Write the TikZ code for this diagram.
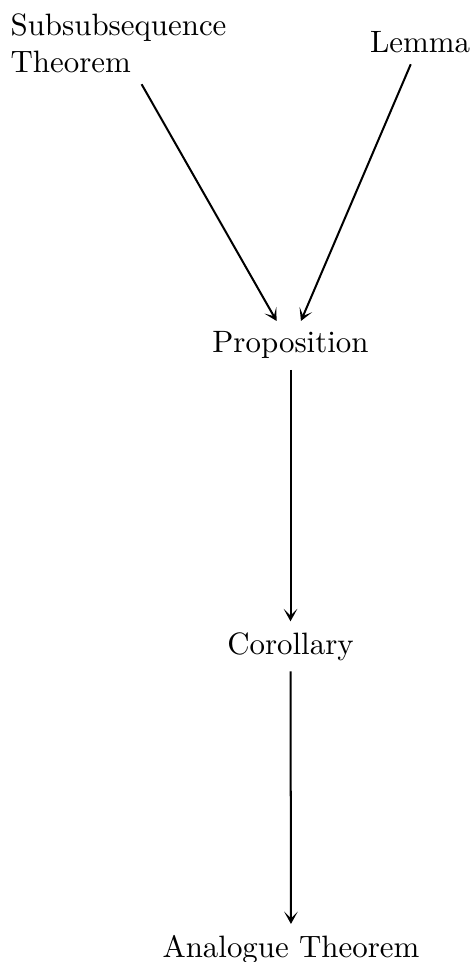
\documentclass[tikz,border=0pt]{standalone}
\usetikzlibrary{arrows.meta}
\begin{document}
\begin{tikzpicture}[x=0.3236pt, y=-0.3236pt,
  result/.style={inner sep=0.3333em},
  implies/.style={-{Stealth[length=4pt, width=4.4pt, inset=2.2pt]}, line width=0.65pt}]
  \useasboundingbox (0,0) rectangle (474,962);
  % results of the chain
  \node[result, anchor=base west, align=left] (sub) at (-0.3,73) {Subsubsequence\\Theorem};
  \node[result, anchor=base] (lem) at (420,53) {Lemma};
  \node[result, anchor=base] (prop) at (290.5,353) {Proposition};
  \node[result, anchor=base] (cor) at (290.5,654) {Corollary};
  \node[result, anchor=base] (ana) at (291,957) {Analogue Theorem};
  % implications
  \draw[implies] (sub) -- (prop);
  \draw[implies] (lem) -- (prop);
  \draw[implies] (prop) -- (cor);
  \draw[implies] (cor) -- (ana);
\end{tikzpicture}
\end{document}
